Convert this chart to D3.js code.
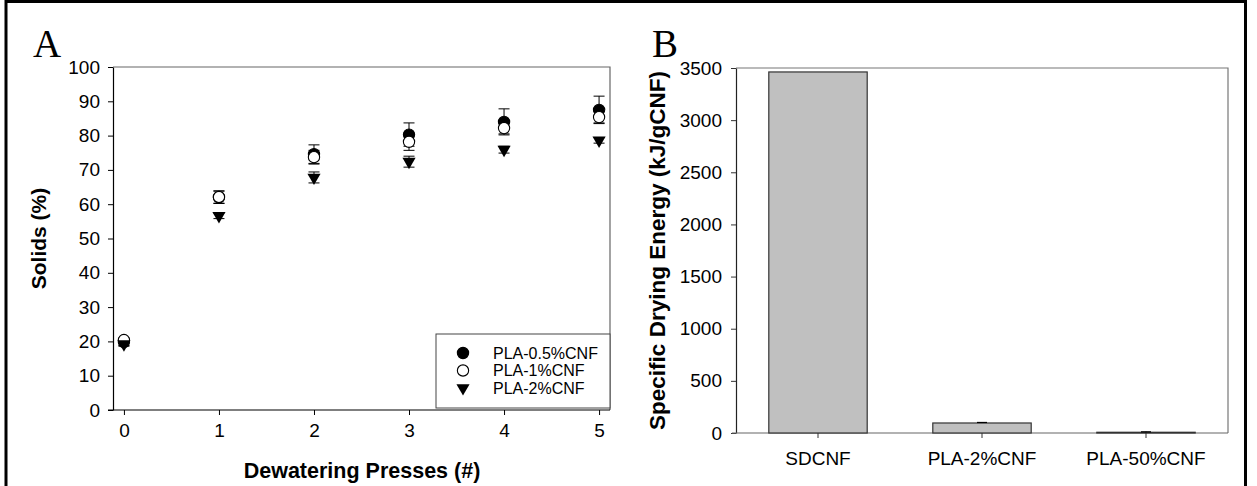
<!DOCTYPE html>
<html>
<head>
<meta charset="utf-8">
<script src="https://cdn.jsdelivr.net/npm/d3@7"></script>
<style>
  html, body { margin: 0; padding: 0; background: #fff; }
  svg { display: block; font-family: Arial, "Liberation Sans", sans-serif; }
</style>
</head>
<body>
<div id="chart"></div>
<script>
// Panel A - solids after each dewatering press
const presses = [0, 1, 2, 3, 4, 5];
const seriesNames = ['PLA-0.5%CNF', 'PLA-1%CNF', 'PLA-2%CNF'];
const solids05 = [19.8, 62.0, 74.6, 80.3, 84.0, 87.5];
const err05 = [1.0, 1.8, 2.7, 3.4, 3.8, 4.0];
const solids1 = [20.4, 62.1, 73.7, 78.2, 82.2, 85.4];
const err1 = [0.6, 1.8, 2.0, 2.5, 1.7, 1.7];
const solids2 = [19.2, 56.6, 67.8, 72.4, 75.9, 78.6];
const err2 = [0.6, 0.8, 1.6, 1.6, 1.0, 0.8];
const solidsTicks = [0, 10, 20, 30, 40, 50, 60, 70, 80, 90, 100];

// Panel B - specific drying energy
const samples = ['SDCNF', 'PLA-2%CNF', 'PLA-50%CNF'];
const energy = [3462, 96, 7];
const energyErr = [0, 5, 4];
const energyTicks = [0, 500, 1000, 1500, 2000, 2500, 3000, 3500];

const W = 1257, H = 486;
const svg = d3.select('#chart').append('svg')
    .attr('width', W)
    .attr('height', H);

// outer frame (no bottom edge, it's cropped)
svg.append('path')
    .attr('d', `M6,${H} L6,1.5 L1245.5,1.5 L1245.5,${H}`)
    .attr('fill', 'none')
    .attr('stroke', '#000')
    .attr('stroke-width', 3);

// ---------- Panel A ----------
const a = { left: 113, right: 610, top: 67, bottom: 410 };
const xA = d3.scaleLinear().domain([-0.115, 5.115]).range([a.left, a.right]);
const yA = d3.scaleLinear().domain([0, 100]).range([a.bottom, a.top]);

const gA = svg.append('g');

// top/right frame lines
gA.append('path')
    .attr('d', `M${a.left},${a.top} L${a.right},${a.top} L${a.right},${a.bottom}`)
    .attr('fill', 'none')
    .attr('stroke', '#666')
    .attr('stroke-width', 1.2);

const axA_y = gA.append('g')
    .attr('transform', `translate(${a.left},0)`)
    .call(d3.axisLeft(yA).tickValues(solidsTicks).tickFormat(d3.format('d'))
        .tickSize(5).tickPadding(8).tickSizeOuter(0));
const axA_x = gA.append('g')
    .attr('transform', `translate(0,${a.bottom})`)
    .call(d3.axisBottom(xA).tickValues(presses).tickFormat(d3.format('d'))
        .tickSize(5).tickPadding(9).tickSizeOuter(0));

[axA_y, axA_x].forEach(ax => {
    ax.select('.domain').attr('stroke', '#000').attr('stroke-width', 1.2);
    ax.selectAll('.tick line').attr('stroke', '#000').attr('stroke-width', 1);
    ax.selectAll('.tick text').attr('font-size', 19).attr('fill', '#000')
        .attr('font-family', 'Arial, "Liberation Sans", sans-serif');
});
// x axis line runs a bit left of the y axis, as in the original
axA_x.select('.domain').attr('d', `M${a.left - 5},0H${a.right}`);

// symbol helpers
const symFilled = d3.symbol().type(d3.symbolCircle).size(100);
const symTri = d3.symbol().type(d3.symbolTriangle).size(75);
const series = [
    { name: seriesNames[0], vals: solids05, errs: err05, kind: 'filled' },
    { name: seriesNames[1], vals: solids1, errs: err1, kind: 'open' },
    { name: seriesNames[2], vals: solids2, errs: err2, kind: 'tri' }
];

function drawSymbol(sel, kind) {
    if (kind === 'tri') {
        sel.append('path').attr('d', symTri()).attr('transform', 'rotate(180)')
            .attr('fill', '#000');
    } else {
        sel.append('path').attr('d', symFilled())
            .attr('fill', kind === 'open' ? '#fff' : '#000')
            .attr('stroke', '#000').attr('stroke-width', 1.1);
    }
}

series.forEach(s => {
    const pts = presses.map((p, i) => ({ x: p, y: s.vals[i], e: s.errs[i] }));
    const eb = gA.append('g').attr('stroke', '#000').attr('stroke-width', 1);
    pts.forEach(d => {
        const cx = xA(d.x), y1 = yA(d.y + d.e), y2 = yA(d.y - d.e);
        eb.append('line').attr('x1', cx).attr('x2', cx).attr('y1', y1).attr('y2', y2);
        eb.append('line').attr('x1', cx - 5.5).attr('x2', cx + 5.5).attr('y1', y1).attr('y2', y1);
        eb.append('line').attr('x1', cx - 5.5).attr('x2', cx + 5.5).attr('y1', y2).attr('y2', y2);
    });
    gA.append('g').selectAll('g')
        .data(pts)
        .enter()
        .append('g')
        .attr('transform', d => `translate(${xA(d.x)},${yA(d.y)})`)
        .each(function() { drawSymbol(d3.select(this), s.kind); });
});

// legend
const leg = gA.append('g');
leg.append('rect')
    .attr('x', 436).attr('y', 334).attr('width', a.right - 436).attr('height', 74)
    .attr('fill', '#fff').attr('stroke', '#444').attr('stroke-width', 1);
series.forEach((s, i) => {
    const row = leg.append('g').attr('transform', `translate(463,${353 + i * 17.5})`);
    drawSymbol(row, s.kind);
    row.append('text')
        .attr('x', 30).attr('dy', '0.36em')
        .attr('font-size', 16)
        .text(s.name);
});

// titles
svg.append('text')
    .attr('x', 362).attr('y', 478)
    .attr('text-anchor', 'middle')
    .attr('font-size', 21.5).attr('font-weight', 'bold')
    .text('Dewatering Presses (#)');
svg.append('text')
    .attr('transform', `translate(46,${(a.top + a.bottom) / 2}) rotate(-90)`)
    .attr('text-anchor', 'middle')
    .attr('font-size', 21).attr('font-weight', 'bold')
    .text('Solids (%)');
svg.append('text')
    .attr('x', 33).attr('y', 57)
    .attr('font-family', '"Liberation Serif", "Times New Roman", serif')
    .attr('font-size', 39)
    .text('A');

// ---------- Panel B ----------
const b = { left: 736, right: 1228, top: 68, bottom: 433 };
const xB = d3.scaleBand().domain(samples).range([b.left, b.right])
    .paddingInner(0.4).paddingOuter(0.2);
const yB = d3.scaleLinear().domain([0, 3500]).range([b.bottom, b.top]);

const gB = svg.append('g');
gB.append('path')
    .attr('d', `M${b.left},${b.top} L${b.right},${b.top} L${b.right},${b.bottom}`)
    .attr('fill', 'none')
    .attr('stroke', '#777')
    .attr('stroke-width', 1.2);

const axB_y = gB.append('g')
    .attr('transform', `translate(${b.left},0)`)
    .call(d3.axisLeft(yB).tickValues(energyTicks).tickFormat(d3.format('d'))
        .tickSize(5).tickPadding(9).tickSizeOuter(0));
const axB_x = gB.append('g')
    .attr('transform', `translate(0,${b.bottom})`)
    .call(d3.axisBottom(xB).tickSize(5).tickPadding(14).tickSizeOuter(0));

axB_y.select('.domain').attr('stroke', '#222').attr('stroke-width', 1.2);
axB_x.select('.domain').attr('stroke', '#666').attr('stroke-width', 1.2)
    .attr('d', `M${b.left - 4},0H${b.right}`);
[axB_y, axB_x].forEach(ax => {
    ax.selectAll('.tick line').attr('stroke', '#333');
    ax.selectAll('.tick text').attr('font-size', 19).attr('fill', '#000')
        .attr('font-family', 'Arial, "Liberation Sans", sans-serif');
});

gB.append('g').selectAll('rect')
    .data(samples.map((s, i) => ({ s, v: energy[i], e: energyErr[i] })))
    .enter()
    .append('rect')
    .attr('x', d => xB(d.s))
    .attr('y', d => yB(d.v))
    .attr('width', xB.bandwidth())
    .attr('height', d => yB(0) - yB(d.v))
    .attr('fill', '#c0c0c0')
    .attr('stroke', '#333')
    .attr('stroke-width', 1.2);

const ebB = gB.append('g').attr('stroke', '#000').attr('stroke-width', 1.2);
samples.forEach((s, i) => {
    if (!energyErr[i]) return;
    const cx = xB(s) + xB.bandwidth() / 2;
    const yTop = yB(energy[i] + energyErr[i]);
    ebB.append('line').attr('x1', cx).attr('x2', cx).attr('y1', yB(energy[i])).attr('y2', yTop);
    ebB.append('line').attr('x1', cx - 5).attr('x2', cx + 5).attr('y1', yTop).attr('y2', yTop);
});

svg.append('text')
    .attr('transform', `translate(665,${(b.top + b.bottom) / 2}) rotate(-90)`)
    .attr('text-anchor', 'middle')
    .attr('font-size', 22.5).attr('font-weight', 'bold')
    .text('Specific Drying Energy (kJ/gCNF)');
svg.append('text')
    .attr('x', 652).attr('y', 57)
    .attr('font-family', '"Liberation Serif", "Times New Roman", serif')
    .attr('font-size', 39)
    .text('B');
</script>
</body>
</html>
